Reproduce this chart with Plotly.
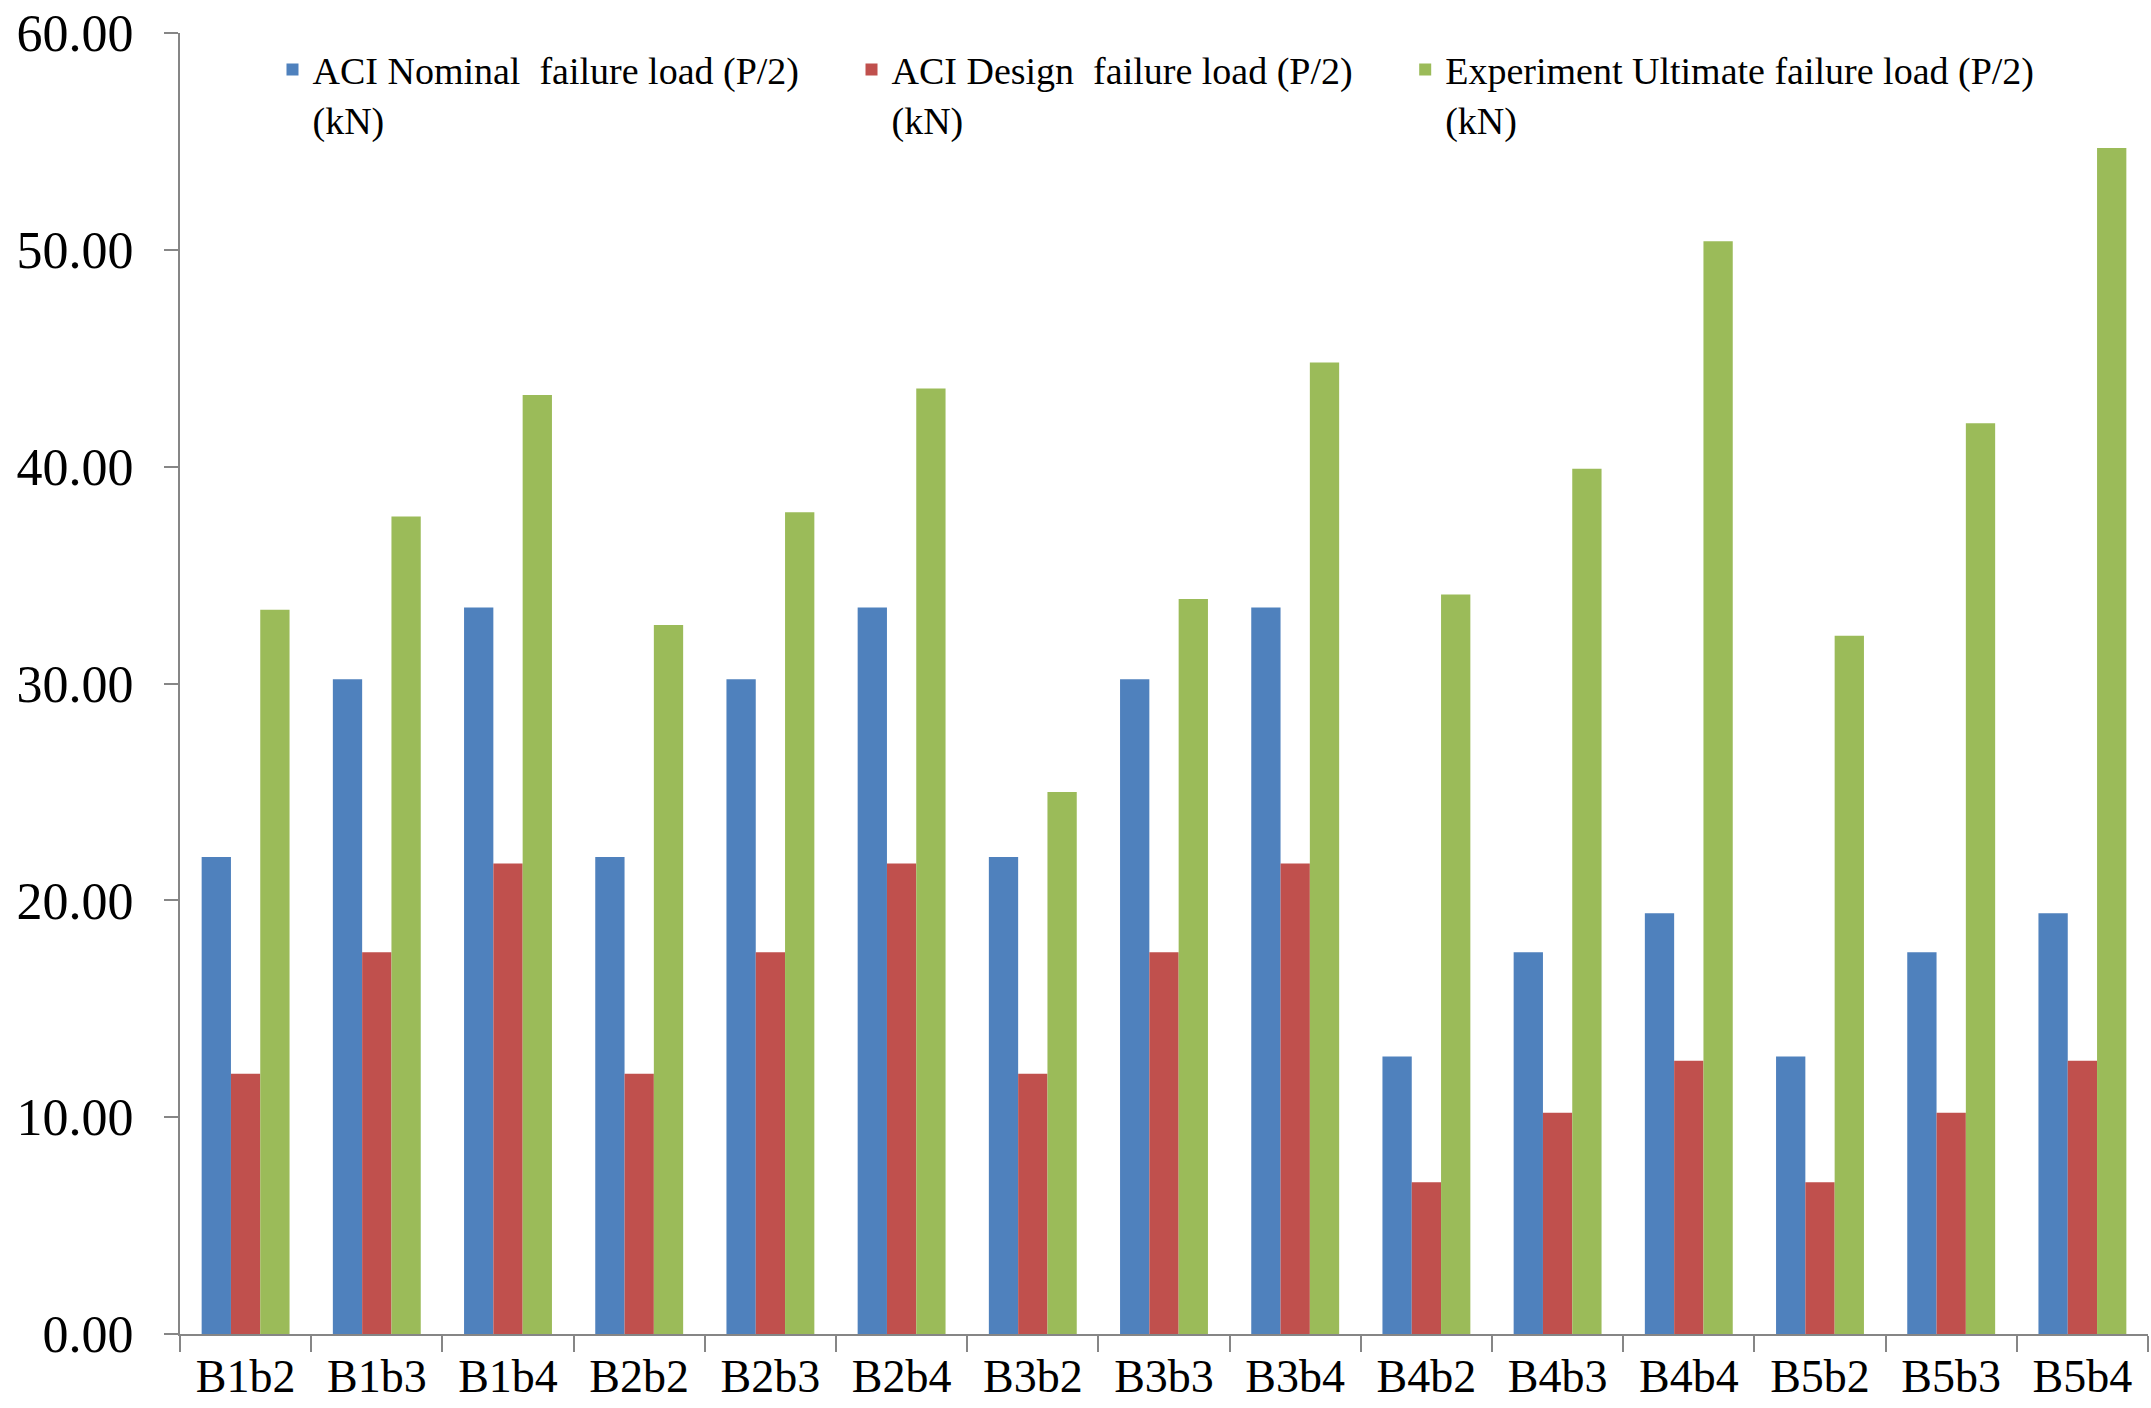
import plotly.graph_objects as go

beams = ["B1b2", "B1b3", "B1b4", "B2b2", "B2b3", "B2b4", "B3b2", "B3b3", "B3b4",
         "B4b2", "B4b3", "B4b4", "B5b2", "B5b3", "B5b4"]

aci_nominal = [22.0, 30.2, 33.5, 22.0, 30.2, 33.5, 22.0, 30.2, 33.5,
               12.8, 17.6, 19.4, 12.8, 17.6, 19.4]
aci_design = [12.0, 17.6, 21.7, 12.0, 17.6, 21.7, 12.0, 17.6, 21.7,
              7.0, 10.2, 12.6, 7.0, 10.2, 12.6]
experiment_ultimate = [33.4, 37.7, 43.3, 32.7, 37.9, 43.6, 25.0, 33.9, 44.8,
                       34.1, 39.9, 50.4, 32.2, 42.0, 54.7]

# trailing no-break spaces widen each legend entry
PAD = "\u00a0" * 5
series_names = [
    "ACI Nominal  failure load (P/2)" + PAD + "<br>(kN)",
    "ACI Design  failure load (P/2)" + PAD + "<br>(kN)",
    "Experiment Ultimate failure load (P/2)<br>(kN)",
]
series_colors = ["#4F81BD", "#C0504D", "#9BBB59"]

FONT = "Liberation Serif, Times New Roman, serif"

fig = go.Figure()
for name, vals, col in zip(series_names, [aci_nominal, aci_design, experiment_ultimate], series_colors):
    fig.add_trace(go.Bar(x=beams, y=vals, name=name, marker=dict(color=col, line=dict(width=0))))

fig.update_layout(
    width=2151, height=1408,
    margin=dict(l=180, r=3, t=33, b=74),
    paper_bgcolor="white", plot_bgcolor="white",
    barmode="group", bargap=0.33, bargroupgap=0,
    font=dict(family=FONT, color="black"),
    showlegend=True,
    legend=dict(
        orientation="h", x=0.047, y=0.996, xanchor="left", yanchor="top",
        font=dict(size=38, family=FONT, color="black"),
        valign="top", tracegroupgap=0,
        bgcolor="rgba(0,0,0,0)", itemclick=False,
    ),
)
fig.update_xaxes(
    type="category", showline=True, linecolor="#868686", linewidth=2,
    ticks="outside", tickson="boundaries", ticklen=16, tickcolor="#868686", tickwidth=2,
    tickfont=dict(size=46, family=FONT, color="black"), showgrid=False,
    ticklabelstandoff=1, automargin=False,
)
fig.update_yaxes(
    range=[0, 60], dtick=10, tickformat=".2f", showline=True, linecolor="#868686", linewidth=2,
    ticks="outside", ticklen=14, tickcolor="#868686", tickwidth=2,
    tickfont=dict(size=52, family=FONT, color="black"), showgrid=False, zeroline=False,
    ticklabelstandoff=20, automargin=False,
)

fig.write_html("out.html")
